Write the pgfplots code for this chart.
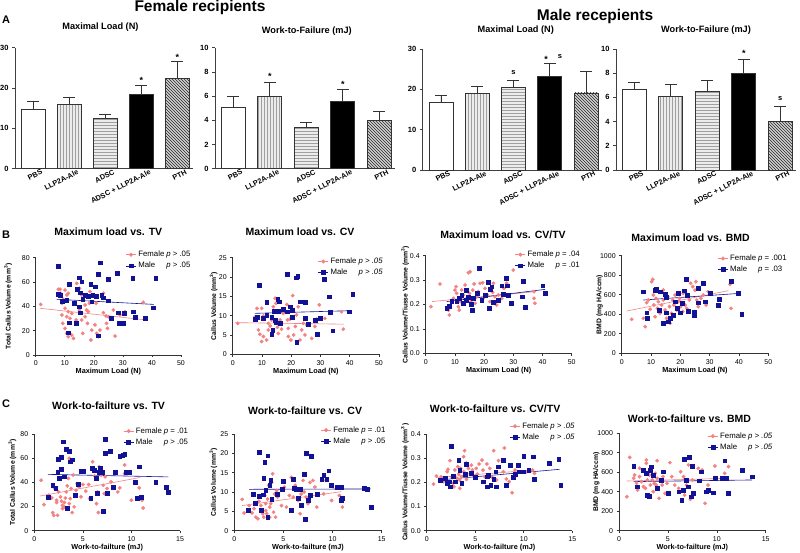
\documentclass[border=0pt]{standalone}
\usepackage{fontspec}
\setmainfont{Liberation Sans}
\usepackage{pgfplots}
\pgfplotsset{compat=1.18}
\usetikzlibrary{patterns}
\definecolor{fem}{RGB}{244,130,130}
\definecolor{mal}{RGB}{18,18,150}
\newcommand{\lgd}[2]{\makebox[28pt][l]{#1}#2}
\pgfplotsset{
  barax/.style={scale only axis, height=121pt, xmin=-0.5, xmax=4.43, ymin=0,
    axis lines=left, axis line style={-, line width=0.7pt, black!75},
    tick align=outside, major tick length=3pt, tick style={line width=0.7pt, black!75},
    xtick={0,1,2,3,4}, xticklabels={PBS,LLP2A-Ale,ADSC,ADSC + LLP2A-Ale,PTH},
    x tick style={draw=none},
    xticklabel style={rotate=27, anchor=north east, xshift=9pt, font=\bfseries\fontsize{7.3}{8}\selectfont, inner sep=1pt},
    yticklabel style={font=\bfseries\fontsize{7.5}{8}\selectfont},
    /pgf/number format/assume math mode=true,
    title style={font=\bfseries\fontsize{9.2}{10}\selectfont, anchor=center},
    clip=false, enlargelimits=false},
  bb/.style={ybar, bar width=24pt, bar shift=0pt, draw=black!80, line width=0.7pt,
    error bars/y dir=plus, error bars/y explicit,
    error bars/error mark options={rotate=90, mark size=6pt, line width=0.7pt, black!80},
    error bars/error bar style={line width=0.7pt, black!80}},
  bPBS/.style={bb, fill=white},
  bLLP/.style={bb, fill=gray!15, postaction={pattern=vertical lines, pattern color=gray!75}},
  bADSC/.style={bb, fill=gray!15, postaction={pattern=horizontal lines, pattern color=gray!75}},
  bCOMB/.style={bb, fill=black},
  bPTH/.style={bb, fill=gray!35, postaction={pattern=north west lines, pattern color=black!85}},
  scat/.style={scale only axis, xmin=0, ymin=0,
    axis lines=left, axis line style={-, line width=0.6pt, black!80},
    tick align=outside, major tick length=2.5pt, tick style={line width=0.6pt, black!80},
    ticklabel style={font=\fontsize{7}{8}\selectfont},
    /pgf/number format/assume math mode=true, /pgf/number format/1000 sep={},
    xlabel style={font=\bfseries\fontsize{7.3}{8}\selectfont, at={(axis description cs:0.5,-0.175)}, anchor=center},
    ylabel style={font=\bfseries\fontsize{6.8}{7}\selectfont, anchor=center},
    title style={font=\bfseries\fontsize{10.5}{12}\selectfont, anchor=center},
    clip=false, enlargelimits=false,
    legend style={draw=none, fill=none, font=\fontsize{7.8}{9}\selectfont, anchor=north east, inner sep=0pt, row sep=0pt, cells={anchor=west}},
    legend image code/.code={\draw[##1,mark repeat=2,mark phase=2] plot coordinates {(0pt,0pt)(5pt,0pt)(10pt,0pt)};}},
  fpt/.style={only marks, mark=*, mark size=1.7pt, color=fem, mark options={draw=fem, fill=fem}, forget plot},
  mpt/.style={only marks, mark=square*, mark size=1.9pt, color=mal, mark options={draw=mal, fill=mal}, forget plot},
  fln/.style={color=fem, line width=0.6pt, no marks, forget plot},
  mln/.style={color=mal, line width=0.6pt, no marks, forget plot},
  flg/.style={color=fem, mark=*, mark size=1.7pt, line width=0.6pt},
  mlg/.style={color=mal, mark=square*, mark size=1.9pt, line width=0.6pt},
}
\begin{document}
\begin{tikzpicture}
\useasboundingbox (0,0) rectangle (800pt,552pt);
\node[font=\bfseries\fontsize{11}{12}\selectfont] at (6pt,532pt) {A};
\node[font=\bfseries\fontsize{11}{12}\selectfont] at (6pt,317pt) {B};
\node[font=\bfseries\fontsize{11}{12}\selectfont] at (6pt,148pt) {C};
\node[font=\bfseries\fontsize{15.5}{17}\selectfont] at (200pt,544.5pt) {Female recipients};
\node[font=\bfseries\fontsize{15.5}{17}\selectfont] at (595pt,536pt) {Male recepients};

% ---------- A: bars ----------
\begin{axis}[barax, at={(15pt,383.3pt)}, anchor=south west, width=178pt, ymax=30, ytick={0,10,20,30},
  title={Maximal Load (N)}, title style={at={(axis description cs:0.48,1.12)}}]
\addplot[bPBS] coordinates {(0,14.8) +- (0,2.0)};
\addplot[bLLP] coordinates {(1,15.9) +- (0,1.9)};
\addplot[bADSC] coordinates {(2,12.4) +- (0,1.1)};
\addplot[bCOMB] coordinates {(3,18.4) +- (0,2.3)};
\addplot[bPTH] coordinates {(4,22.4) +- (0,4.2)};
\node[font=\bfseries\fontsize{9}{9}\selectfont] at (axis cs:3,21.8) {*};
\node[font=\bfseries\fontsize{9}{9}\selectfont] at (axis cs:4,27.6) {*};
\end{axis}
\begin{axis}[barax, at={(215pt,383.3pt)}, anchor=south west, width=180pt, ymax=10, ytick={0,2,4,6,8,10},
  title={Work-to-Failure (mJ)}, title style={at={(axis description cs:0.51,1.09)}}]
\addplot[bPBS] coordinates {(0,5.1) +- (0,0.85)};
\addplot[bLLP] coordinates {(1,6.0) +- (0,1.13)};
\addplot[bADSC] coordinates {(2,3.39) +- (0,0.47)};
\addplot[bCOMB] coordinates {(3,5.54) +- (0,1.04)};
\addplot[bPTH] coordinates {(4,4.0) +- (0,0.71)};
\node[font=\bfseries\fontsize{9}{9}\selectfont] at (axis cs:1,7.6) {*};
\node[font=\bfseries\fontsize{9}{9}\selectfont] at (axis cs:3,7.0) {*};
\end{axis}
\begin{axis}[barax, at={(422.7pt,382pt)}, anchor=south west, width=179pt, ymax=30, ytick={0,10,20,30},
  title={Maximal Load (N)}, title style={at={(axis description cs:0.52,1.11)}}]
\addplot[bPBS] coordinates {(0,16.7) +- (0,1.9)};
\addplot[bLLP] coordinates {(1,18.9) +- (0,1.8)};
\addplot[bADSC] coordinates {(2,20.5) +- (0,1.85)};
\addplot[bCOMB] coordinates {(3,23.2) +- (0,3.3)};
\addplot[bPTH] coordinates {(4,19.1) +- (0,5.4)};
\node[font=\bfseries\fontsize{7.5}{8}\selectfont] at (axis cs:2,24.2) {s};
\node[font=\bfseries\fontsize{9}{9}\selectfont] at (axis cs:2.9,27.3) {*};
\node[font=\bfseries\fontsize{7.5}{8}\selectfont] at (axis cs:3.28,28.2) {s};
\end{axis}
\begin{axis}[barax, at={(616pt,382pt)}, anchor=south west, width=180pt, ymax=10, ytick={0,2,4,6,8,10},
  title={Work-to-Failure (mJ)}, title style={at={(axis description cs:0.50,1.11)}}]
\addplot[bPBS] coordinates {(0,6.68) +- (0,0.58)};
\addplot[bLLP] coordinates {(1,6.1) +- (0,0.94)};
\addplot[bADSC] coordinates {(2,6.49) +- (0,0.93)};
\addplot[bCOMB] coordinates {(3,7.95) +- (0,1.2)};
\addplot[bPTH] coordinates {(4,4.03) +- (0,1.26)};
\node[font=\bfseries\fontsize{9}{9}\selectfont] at (axis cs:3,9.6) {*};
\node[font=\bfseries\fontsize{7.5}{8}\selectfont] at (axis cs:4,5.9) {s};
\end{axis}

% ---------- B row ----------
\begin{axis}[scat, at={(35.7pt,197pt)}, anchor=south west, width=145.3pt, height=97.3pt,
  xmax=50, ymax=80, xtick={0,10,20,30,40,50}, ytick={0,20,40,60,80},
  title={Maximum load vs. TV}, title style={at={(axis description cs:0.5,1.2)}},
  xlabel={Maximum Load (N)}, ylabel={Total Callus Volume (mm\textsuperscript{3})},
  ylabel style={at={(axis description cs:-0.19,0.5)}},
  legend style={at={(axis description cs:1.08,1.09)}}]
\addplot[fpt] coordinates {(1.7,41.6)(7.8,54)(8.4,54)(8.6,50.7)(10.1,53.4)(9,42.5)(9.5,45.8)(10.7,49.3)(11.2,50.7)(10.1,38.4)(11.2,35.6)(9,32.9)(10.7,31.5)(12.4,34.2)(11.8,30.1)(9.3,26)(10.1,21.9)(10.7,17.8)(12.4,16.4)(11.2,15.1)(13,13.7)(13.9,28.8)(14.1,58.9)(15.1,54.8)(15.8,49.3)(16.4,45.2)(17,41.1)(15,37)(15.8,28.8)(17,31.5)(17.5,37)(17.8,26)(18.1,35.6)(18.5,42.5)(18.7,52.1)(19.3,20.5)(19,12.3)(20.4,24.7)(20.8,42.5)(21,17.8)(21.6,15.1)(22.1,20.5)(23.3,34.8)(23.3,50.7)(24.2,32.1)(24.4,26)(24.7,21.9)(25,31.5)(27.3,15.6)(26.7,37)(29,32.9)(30.7,35.6)(37,43.3)(37.9,29.6)(16.2,17.8)};
\addplot[mpt] coordinates {(7.8,73.2)(22.1,75.9)(14.9,63.6)(15.8,60.3)(21.6,66.3)(28.1,67.1)(25.0,62.2)(33.4,63)(41.3,63)(11.6,58.1)(18.9,58.4)(20.4,56.2)(7.8,50.1)(8.4,49.3)(14.4,54)(15.2,51.2)(17,49.3)(18.1,48.5)(19.6,49.3)(20.9,48.5)(22.7,49.3)(23.3,47.1)(16.2,45.8)(19.3,43.8)(10.7,45.2)(9,44.4)(25,44.7)(13.2,42.5)(15.2,34.8)(11.6,26.6)(13.9,26)(11.2,18.4)(21.5,15.9)(26.1,30.1)(28.5,34.8)(28.7,26)(30,26)(30.4,34.2)(33.6,35.6)(34.2,31)(37.6,30.1)(40.3,38.9)(15,39.7)};
\addplot[fln] coordinates {(1.5,38.4)(38.2,28.8)};
\addplot[mln] coordinates {(7.2,45.8)(40.7,41.6)};
\addlegendimage{flg}\addlegendentry{\lgd{Female}{\textit{p} > .05}}
\addlegendimage{mlg}\addlegendentry{\lgd{Male}{\textit{p} > .05}}
\end{axis}

\begin{axis}[scat, at={(232.7pt,197.7pt)}, anchor=south west, width=146.3pt, height=96.6pt,
  xmax=50, ymax=25, xtick={0,10,20,30,40,50}, ytick={0,5,10,15,20,25},
  title={Maximum load vs. CV}, title style={at={(axis description cs:0.46,1.21)}},
  xlabel={Maximum Load (N)}, ylabel={Callus Volume (mm\textsuperscript{3})},
  ylabel style={at={(axis description cs:-0.13,0.5)}},
  legend style={at={(axis description cs:1.04,1.02)}}]
\addplot[fpt] coordinates {(1.7,8)(7.6,9.6)(8.3,11.9)(9.9,11.9)(10.5,9.9)(8.8,6.3)(9.3,5.2)(10.5,4.6)(9.9,3.3)(11.6,3.7)(12.2,6.3)(12.2,8)(12.8,7.3)(13.3,8.9)(13.9,12.3)(14.5,14.5)(14.8,13.2)(15.3,7)(15.6,5.4)(16.2,8.9)(16.7,6.5)(17.3,10.6)(18.5,12.9)(18.7,8.9)(19,6.7)(19,4.6)(19.6,9.1)(19.9,3.7)(20.8,5)(21.4,7.2)(21.8,10.2)(22.4,12.3)(23,3.7)(23.6,6.3)(24.1,8)(24.7,5)(25.3,7.6)(27,4.1)(28.1,7.2)(28.7,9.1)(29.6,12.8)(31.5,9.3)(37.8,6.5)(37.2,11)(20.5,15.2)};
\addplot[mpt] coordinates {(9.1,17.9)(18.7,20.7)(21.6,19.8)(22.2,20.3)(31.2,19.4)(11.6,13.4)(15.4,14.2)(15.8,13.6)(23,13.6)(24.7,13.4)(33,14.9)(41,15.6)(14.1,11.2)(15.6,11.2)(17.3,11.6)(18.5,11)(19.6,12.3)(20.2,11.5)(11.6,10.2)(13.3,9.7)(10.3,9.3)(7.6,9.1)(8.5,9.6)(14.5,8.9)(20.2,9.7)(24.7,9.3)(28.1,8.9)(25.9,7.8)(29.8,9.3)(14.8,8.2)(16.2,8)(33.2,10.8)(39.9,11)(13.7,6.3)(13.3,5.2)(29,5.3)(34.2,6.1)(21.9,3.1)};
\addplot[fln] coordinates {(0.8,8.2)(38,7.8)};
\addplot[mln] coordinates {(7.6,10.6)(40.7,11.3)};
\addlegendimage{flg}\addlegendentry{\lgd{Female}{\textit{p > .05}}}
\addlegendimage{mlg}\addlegendentry{\lgd{Male}{\textit{p > .05}}}
\end{axis}

\begin{axis}[scat, at={(425.7pt,198.7pt)}, anchor=south west, width=146pt, height=97.6pt,
  xmax=50, ymax=0.4, xtick={0,10,20,30,40,50}, ytick={0,0.1,0.2,0.3,0.4},
  yticklabel style={/pgf/number format/fixed, /pgf/number format/fixed zerofill, /pgf/number format/precision=1},
  title={Maximum load vs. CV/TV}, title style={at={(axis description cs:0.53,1.15)}},
  xlabel={Maximum Load (N)}, ylabel={Callus Volume/Tiusse Volume (mm\textsuperscript{3})},
  ylabel style={at={(axis description cs:-0.14,0.5)}},
  legend style={at={(axis description cs:1.07,1.07)}}]
\addplot[fpt] coordinates {(1.8,0.191)(4.9,0.284)(7.8,0.177)(8.1,0.157)(9.5,0.225)(10,0.259)(10.4,0.273)(10.6,0.246)(11.2,0.191)(11.8,0.212)(12.3,0.259)(12.9,0.239)(13.5,0.28)(14,0.225)(14.6,0.33)(15.2,0.334)(15,0.246)(15.4,0.212)(16.1,0.259)(16.6,0.284)(16.9,0.205)(17.5,0.232)(18,0.253)(18.6,0.287)(19.5,0.289)(19.7,0.225)(20.3,0.266)(21.1,0.239)(22,0.212)(22.9,0.25)(23.7,0.232)(24.3,0.198)(24.9,0.239)(26,0.225)(26.8,0.266)(27.7,0.287)(30,0.341)(37.1,0.253)(37.1,0.225)(37.4,0.205)(23.2,0.287)(11.5,0.177)};
\addplot[mpt] coordinates {(7.2,0.184)(8.1,0.194)(8.9,0.212)(10.6,0.212)(11.5,0.225)(12.3,0.239)(12.9,0.205)(13.8,0.218)(14,0.257)(14.6,0.229)(15.5,0.202)(15.8,0.177)(16.3,0.225)(18.4,0.348)(17.5,0.246)(19.2,0.218)(20.3,0.239)(21.5,0.291)(21.8,0.184)(22,0.262)(22.6,0.273)(23.2,0.208)(24.9,0.218)(26,0.277)(26.6,0.243)(27.7,0.307)(27.9,0.277)(28.3,0.239)(29.2,0.205)(33.4,0.294)(33.1,0.232)(34.2,0.188)(40.1,0.277)(40.9,0.246)};
\addplot[fln] coordinates {(2.1,0.212)(37.8,0.253)};
\addplot[mln] coordinates {(7.2,0.212)(40.9,0.262)};
\addlegendimage{flg}\addlegendentry{\lgd{Female}{\textit{p} = .04}}
\addlegendimage{mlg}\addlegendentry{\lgd{Male}{\textit{p} = .01}}
\end{axis}

\begin{axis}[scat, at={(621.7pt,198.7pt)}, anchor=south west, width=146.6pt, height=97.6pt,
  xmax=50, ymax=1000, xtick={0,10,20,30,40,50}, ytick={0,200,400,600,800,1000},
  title={Maximum load vs. BMD}, title style={at={(axis description cs:0.47,1.12)}},
  xlabel={Maximum Load (N)}, ylabel={BMD (mg HA/ccm)},
  ylabel style={at={(axis description cs:-0.15,0.5)}},
  legend style={at={(axis description cs:1.14,1.03)}}]
\addplot[fpt] coordinates {(3.4,348)(7.4,358)(8,273)(8.5,519)(9.1,546)(9.7,451)(10.2,734)(10.6,758)(10.8,597)(11,495)(11.4,375)(11.7,563)(12.2,461)(12.5,529)(13.1,409)(13.6,495)(14.2,648)(14.2,546)(14.8,444)(15.3,358)(15.7,580)(16.3,478)(16.5,307)(17,409)(17.4,546)(17.8,495)(18.2,597)(18.8,444)(19.3,529)(19.7,563)(20.1,478)(20.8,427)(21,614)(21.6,495)(22.2,461)(23.1,546)(23.5,717)(24.2,683)(25,648)(25.3,734)(25.6,546)(26.1,478)(27,563)(27.8,597)(28.8,495)(29.5,631)(36.9,706)(37.3,461)};
\addplot[mpt] coordinates {(7.4,631)(8.5,416)(8.8,358)(11.4,648)(11.9,655)(13.1,631)(12.8,444)(14.2,307)(14.8,604)(15.1,573)(15.3,416)(15.9,324)(16.5,358)(17.6,392)(18.2,529)(18.8,461)(19.3,614)(19.9,416)(20.5,512)(21.3,642)(21.9,758)(22.4,597)(22.7,433)(24.7,392)(24.8,427)(26.1,666)(26.1,519)(27.8,717)(28.4,529)(30.1,614)(33,495)(33.3,553)(37.3,741)(39.8,614)(40.9,403)};
\addplot[fln] coordinates {(1.7,433)(36.4,642)};
\addplot[mln] coordinates {(7.4,546)(40.3,614)};
\addlegendimage{flg}\addlegendentry{\lgd{Female}{\textit{p} = .001}}
\addlegendimage{mlg}\addlegendentry{\lgd{Male}{\textit{p} = .03}}
\end{axis}

% ---------- C row ----------
\begin{axis}[scat, at={(34.3pt,21.3pt)}, anchor=south west, width=145.7pt, height=96.7pt,
  xmax=15, ymax=80, xtick={0,5,10,15}, ytick={0,20,40,60,80},
  title={Work-to-failture vs. TV}, title style={at={(axis description cs:0.51,1.23)}},
  xlabel={Work-to-failture (mJ)}, ylabel={Total Callus Volume (mm\textsuperscript{3})},
  ylabel style={at={(axis description cs:-0.15,0.5)}},
  legend style={at={(axis description cs:1.07,1.09)}}]
\addplot[fpt] coordinates {(0.7,41.8)(1,21.6)(1.5,29.3)(1.8,27.1)(1.9,15)(2,12.7)(2.1,34.9)(2.3,25.2)(2.3,23.3)(2.4,12.7)(2.5,32.1)(2.7,28)(2.8,24.4)(2.9,21)(2.9,18.3)(3.1,19.7)(3.1,23.3)(3.2,27.1)(3.3,32.1)(3.4,37.1)(3.5,43.2)(3.6,59.8)(3.6,22.4)(3.7,26.6)(3.8,34.9)(3.9,15)(4,46)(4.1,19.7)(4.3,33.5)(4.4,39)(4.6,36.3)(4.8,28)(5,38.2)(5.3,32.7)(5.6,38.2)(5.7,26.6)(6,57)(6.2,45.4)(6.4,22.4)(6.5,32.1)(6.7,52.9)(6.9,46)(7.1,37.6)(6.6,15)(7.2,30.7)(7.3,44.6)(7.5,34.9)(7.9,40.4)(8.6,32.1)(8.8,35.4)(9.3,54.3)(9.3,47.3)(10,25.2)(10.8,35.4)(11.1,25.2)(11.2,18.8)};
\addplot[mpt] coordinates {(1.4,28)(1.9,37.6)(2.2,34.9)(2.4,48.7)(2.5,59.2)(2.6,43.2)(2.8,61)(3,73.6)(2.8,50.9)(3.1,44.6)(3.3,67.3)(3.4,18.8)(3.6,65.9)(3.7,57)(3.9,58.7)(4.2,29.3)(4.5,38.2)(4.8,49.5)(5,49.5)(5.8,27.1)(6,51.5)(6.2,50.1)(6.4,43.2)(6.5,30.7)(6.7,48.7)(6.8,52)(7,48.7)(7.1,16.1)(7.3,75.8)(7.5,30.7)(7.8,66)(7.3,63.8)(8.1,36.3)(8.3,48.7)(8.8,61.6)(9.1,62.7)(9.3,63.5)(9.5,48.7)(9.7,48.7)(10.4,40.4)(10.6,27.1)(10.8,52.9)(12.5,39.9)(13.6,36.3)(13.8,32.1)(11,28)(9.8,48.7)};
\addplot[fln] coordinates {(0.6,28.7)(10.9,44)};
\addplot[mln] coordinates {(1.4,46.6)(13.8,44.5)};
\addlegendimage{flg}\addlegendentry{\lgd{Female}{\textit{p} = .01}}
\addlegendimage{mlg}\addlegendentry{\lgd{Male}{\textit{p} > .05}}
\end{axis}

\begin{axis}[scat, at={(234.3pt,21.3pt)}, anchor=south west, width=147.4pt, height=96.7pt,
  xmax=15, ymax=25, xtick={0,5,10,15}, ytick={0,5,10,15,20,25},
  title={Work-to-failture vs. CV}, title style={at={(axis description cs:0.48,1.18)}},
  xlabel={Work-to-failture (mJ)}, ylabel={Callus Volume (mm\textsuperscript{3})},
  ylabel style={at={(axis description cs:-0.142,0.5)}},
  legend style={at={(axis description cs:1.04,1.10)}}]
\addplot[fpt] coordinates {(0.8,8.1)(1,4.6)(1.5,6.5)(1.8,4.6)(2,5.7)(2.2,3.5)(2.4,3.1)(2.5,7.6)(2.7,6.5)(2.9,4.4)(3,3.5)(3.1,9.1)(3.2,7)(3.2,5.2)(3.3,4.4)(3.4,8.2)(3.5,11.7)(3.6,6.1)(3.6,3.5)(3.7,7)(3.8,12.4)(3.9,14.7)(4,4.8)(4.1,9.5)(4.2,3.5)(4.3,10.4)(4.4,8.7)(4.8,6.5)(5.1,11.3)(5.3,6.1)(5.6,9.1)(5.8,13.8)(6,8.7)(6.2,11.7)(6.5,7.8)(6.7,4.4)(6.8,9.5)(7,13)(7.1,10)(7.3,8.7)(7.5,7)(7.7,12.5)(8,13)(8.2,11.3)(8.4,6.1)(9.1,9.5)(9.3,13)(9.9,7.8)(10.7,9.1)(11,6.1)};
\addplot[mpt] coordinates {(1.4,5.2)(1.9,9.5)(2.1,7.2)(2.5,20.3)(2.5,8.9)(2.7,5.2)(2.9,9.3)(3.1,17.7)(3,13.6)(3.2,10.4)(3.4,19.4)(3.4,3.5)(3.6,11.7)(3.7,13)(3.8,8.1)(4.4,9.5)(4.9,10.8)(5,12.7)(5.8,5.2)(6,13.4)(6.1,11)(6.3,10.8)(6.5,8.4)(6.7,10.8)(6.8,6.5)(7.1,14.7)(7.2,2.9)(7.3,20.1)(7.5,7.8)(7.7,9.1)(7.8,19.2)(8.4,9.5)(8.9,13.4)(9.1,14.4)(9.4,13.4)(9.6,15.5)(9.9,11.7)(10.5,11.3)(10.9,7.8)(10.9,11.3)(13.2,11)(13.5,10.7)(13.9,6.1)(11,8.4)};
\addplot[fln] coordinates {(0.8,6.5)(10.9,10.1)};
\addplot[mln] coordinates {(1.5,10.7)(13.9,10.8)};
\addlegendimage{flg}\addlegendentry{\lgd{Female}{\textit{p} = .01}}
\addlegendimage{mlg}\addlegendentry{\lgd{Male}{\textit{p} > .05}}
\end{axis}

\begin{axis}[scat, at={(426.7pt,21.3pt)}, anchor=south west, width=145.6pt, height=96.7pt,
  xmax=15, ymax=0.4, xtick={0,5,10,15}, ytick={0,0.1,0.2,0.3,0.4},
  yticklabel style={/pgf/number format/fixed, /pgf/number format/fixed zerofill, /pgf/number format/precision=1},
  title={Work-to-failture vs. CV/TV}, title style={at={(axis description cs:0.47,1.2)}},
  xlabel={Work-to-failture (mJ)}, ylabel={Callus Volume/Tiusse Volume (mm\textsuperscript{3})},
  ylabel style={at={(axis description cs:-0.15,0.5)}},
  legend style={at={(axis description cs:1.03,1.14)}}]
\addplot[fpt] coordinates {(0.7,0.193)(1,0.226)(1.5,0.223)(1.7,0.203)(2.1,0.244)(2.2,0.254)(2.4,0.29)(2.6,0.223)(2.7,0.196)(2.8,0.182)(2.9,0.251)(3.1,0.217)(3.2,0.265)(3.3,0.234)(3.4,0.21)(3.4,0.175)(3.5,0.258)(3.6,0.223)(3.8,0.306)(3.8,0.244)(3.9,0.331)(4.1,0.212)(4.1,0.281)(4.3,0.258)(4.5,0.237)(4.6,0.271)(4.7,0.251)(5,0.223)(5.1,0.258)(5.2,0.234)(5.4,0.276)(5.7,0.292)(5.8,0.251)(6,0.223)(6.2,0.276)(6.5,0.258)(6.7,0.223)(6.9,0.331)(7.2,0.21)(7.4,0.29)(7.9,0.244)(8,0.342)(8.2,0.214)(8.5,0.203)(8.8,0.157)(9.1,0.251)(10.3,0.244)(10.9,0.251)(11.1,0.237)};
\addplot[mpt] coordinates {(1.4,0.21)(1.9,0.217)(2.1,0.196)(2.3,0.203)(2.4,0.182)(2.5,0.35)(2.7,0.226)(2.9,0.203)(3.3,0.292)(3.4,0.251)(3.6,0.196)(4,0.234)(4.1,0.276)(4.6,0.237)(5,0.221)(5.8,0.203)(6.2,0.223)(6.2,0.182)(6.3,0.23)(6.6,0.189)(6.9,0.212)(7.1,0.244)(7.2,0.182)(7.4,0.265)(7.9,0.29)(8.2,0.189)(8.6,0.271)(8.9,0.221)(9.1,0.234)(9.4,0.271)(9.5,0.244)(9.9,0.244)(10,0.309)(10.5,0.251)(11,0.306)(11.1,0.212)(12.6,0.279)(13.6,0.295)(13.8,0.189)};
\addplot[fln] coordinates {(1,0.22)(11.1,0.251)};
\addplot[mln] coordinates {(1.3,0.21)(13.7,0.254)};
\addlegendimage{flg}\addlegendentry{\lgd{Female}{\textit{p > .05}}}
\addlegendimage{mlg}\addlegendentry{\lgd{Male}{\textit{p > .05}}}
\end{axis}

\begin{axis}[scat, at={(619pt,21.3pt)}, anchor=south west, width=146.7pt, height=97.4pt,
  xmax=15, ymax=1000, xtick={0,5,10,15}, ytick={0,200,400,600,800,1000},
  title={Work-to-failture vs. BMD}, title style={at={(axis description cs:0.48,1.09)}},
  xlabel={Work-to-failture (mJ)}, ylabel={BMD (mg HA/ccm)},
  ylabel style={at={(axis description cs:-0.155,0.5)}},
  legend style={at={(axis description cs:1.06,1.03)}}]
\addplot[fpt] coordinates {(0.8,349)(1.1,753)(1.5,538)(1.6,572)(1.8,486)(1.9,418)(2.1,555)(2.1,641)(2.3,504)(2.5,452)(2.7,435)(2.8,726)(2.8,692)(2.9,521)(3,349)(3.1,572)(3.2,469)(3.3,623)(3.4,521)(3.5,401)(3.6,486)(3.7,589)(3.8,469)(3.9,538)(3.9,719)(4,435)(4.1,332)(4.2,521)(4.4,469)(4.5,555)(4.7,384)(4.9,486)(5.2,699)(5.4,555)(5.7,469)(6.1,435)(6.3,606)(6.6,555)(6.7,366)(6.9,469)(7.1,675)(7.3,322)(7.5,521)(8.1,641)(8.5,623)(8.8,281)(9.1,469)(9.8,664)(10.8,589)(11.2,658)};
\addplot[mpt] coordinates {(1.5,664)(1.9,452)(2.5,623)(2.8,589)(2.9,366)(3.1,356)(3.2,623)(3.3,658)(3.5,572)(3.9,435)(4.3,521)(4.5,606)(5,384)(6.1,401)(6.4,315)(6.6,418)(6.7,733)(6.9,521)(7.1,452)(7.2,753)(7.4,349)(7.5,664)(7.6,384)(8.2,514)(8.4,606)(8.9,401)(9.1,418)(9.6,390)(9.8,538)(10.5,538)(10.7,538)(10.8,719)(11,538)(11.2,384)(12.6,623)(13.6,555)};
\addplot[fln] coordinates {(0.8,510)(11.2,538)};
\addplot[mln] coordinates {(1.5,504)(13.6,521)};
\addlegendimage{flg}\addlegendentry{\lgd{Female}{\textit{p > .05}}}
\addlegendimage{mlg}\addlegendentry{\lgd{Male}{\textit{p > .05}}}
\end{axis}
\end{tikzpicture}
\end{document}
